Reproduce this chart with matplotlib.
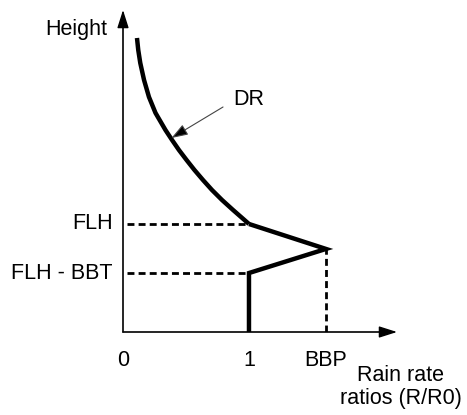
import numpy as np
from matplotlib import pyplot as plt

plt.rcParams['font.family'] = ['Liberation Sans', 'DejaVu Sans']

# Key values (x: rain rate ratio R/R0, y: height, FLH = 1)
flh = 1.0
flh_bbt = 0.546
bbp = 1.611
bbp_height = 0.769

# Decreasing rain-rate curve above the freezing level (DR)
dr_x = [0.111, 0.121, 0.137, 0.167, 0.206, 0.258, 0.337, 0.389, 0.444,
        0.504, 0.567, 0.635, 0.706, 0.786, 0.873, 0.964, 1.0]
dr_y = [2.722, 2.611, 2.491, 2.333, 2.176, 2.028, 1.870, 1.778, 1.685,
        1.593, 1.500, 1.407, 1.315, 1.222, 1.130, 1.037, 1.0]

# Bright band part and the constant part below it
bb_x = [1.0, bbp, 1.0, 1.0]
bb_y = [flh, bbp_height, flh_bbt, 0.0]

x_max, y_max = 2.175, 2.981

fig = plt.figure(figsize=(4.67, 4.15), dpi=100)
ax = fig.add_axes([123 / 467, 83 / 415, 274 / 467, 322 / 415])
ax.set_xlim(0, x_max)
ax.set_ylim(0, y_max)
ax.set_axis_off()

# Axes with arrow heads
arrow_fmt = dict(arrowstyle='-|>,head_length=1.1,head_width=0.35',
                 color='black', lw=1, shrinkA=0, shrinkB=0)
ax.annotate('', xy=(x_max, 0), xytext=(0, 0), arrowprops=arrow_fmt,
            annotation_clip=False)
ax.annotate('', xy=(0, y_max), xytext=(0, 0), arrowprops=arrow_fmt,
            annotation_clip=False)
ax.plot([0, x_max * 0.95], [0, 0], c='#777777', lw=1.2, clip_on=False)
ax.plot([0, 0], [0, y_max * 0.95], c='#777777', lw=1.2, clip_on=False)

# Dashed guide lines
dash = dict(c='black', lw=2.0, ls=(0, (2.5, 1.5)))
ax.plot([0.03, 1], [flh, flh], **dash)
ax.plot([0.03, 1], [flh_bbt, flh_bbt], **dash)
ax.plot([bbp, bbp], [0, bbp_height], **dash)

# Profile
ax.plot(dr_x, dr_y, c='black', lw=3.2, solid_capstyle='butt',
        solid_joinstyle='round')
ax.plot(bb_x, bb_y, c='black', lw=3.2, solid_joinstyle='miter',
        solid_capstyle='butt')

# DR pointer
ax.annotate('', xy=(0.385, 1.796), xytext=(0.794, 2.083),
            arrowprops=dict(arrowstyle='-|>,head_length=1.0,head_width=0.35',
                            color='black', lw=0.8, shrinkA=0, shrinkB=0,
                            ec='#444444', fc='black'))

fs = 15.5
ax.text(0.873, 2.10, 'DR', fontsize=fs, ha='left', va='baseline')

# Labels
ax.text(-0.127, 2.75, 'Height', fontsize=fs, ha='right', va='baseline',
        clip_on=False)
ax.text(-0.08, flh, 'FLH', fontsize=fs, ha='right', va='center', clip_on=False)
ax.text(-0.08, flh_bbt, 'FLH - BBT', fontsize=fs, ha='right', va='center',
        clip_on=False)
for xv, lab in zip([0, 1, bbp], ['0', '1', 'BBP']):
    ax.text(xv, -0.167, lab, fontsize=fs, ha='center', va='top', clip_on=False)
ax.text(2.206, -0.306, 'Rain rate\nratios (R/R0)', fontsize=fs, ha='center',
        va='top', linespacing=1.1, clip_on=False)

fig.savefig('out.png', dpi=100)
